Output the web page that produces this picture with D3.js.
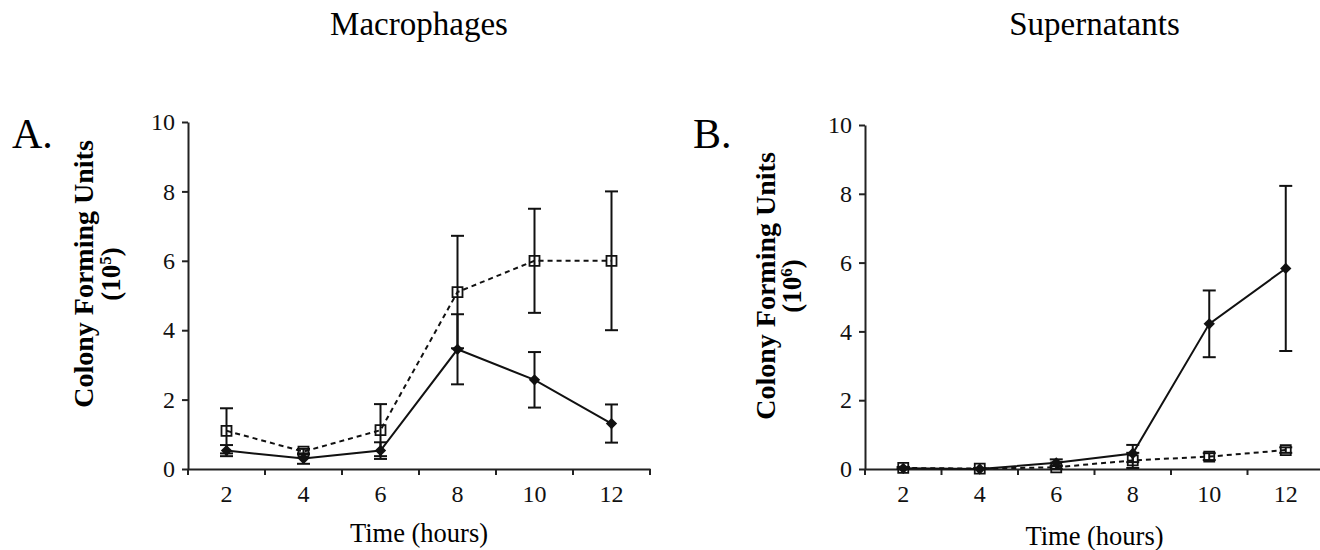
<!DOCTYPE html>
<html>
<head>
<meta charset="utf-8">
<script src="https://cdn.jsdelivr.net/npm/d3@7"></script>
<style>
  body { margin: 0; background: #fff; }
  svg { display: block; font-family: "Liberation Serif", "Times New Roman", serif; }
</style>
</head>
<body>
<div class="chart"></div>
<script>
// time points (hours)
var hours = ["2", "4", "6", "8", "10", "12"];
var yTicks = [0, 2, 4, 6, 8, 10];

// A. Macrophages (x10^5 CFU)
var macroSolid = [0.53, 0.30, 0.53, 3.45, 2.57, 1.31],
    macroSolidErr = [0.16, 0.15, 0.24, 1.01, 0.80, 0.55],
    macroOpen = [1.10, 0.50, 1.12, 5.10, 6.00, 6.00],
    macroOpenErr = [0.65, 0.08, 0.75, 1.62, 1.50, 2.00];

// B. Supernatants (x10^6 CFU)
var superSolid = [0.02, 0.00, 0.18, 0.45, 4.22, 5.83],
    superSolidErr = [0.03, 0.02, 0.10, 0.25, 0.97, 2.40],
    superOpen = [0.03, 0.01, 0.05, 0.25, 0.36, 0.55],
    superOpenErr = [0.03, 0.02, 0.05, 0.22, 0.10, 0.08];

var serif = "Liberation Serif, Times New Roman, serif";

var svg = d3.select(".chart").append("svg")
    .attr("width", 1320)
    .attr("height", 550);

var panels = [
    { letter: "A.", letterX: 12, title: "Macrophages", exp: "5",
      left: 188, right: 650, top: 122, bottom: 469,
      labelX1: 93, labelX2: 120, labelY: 274, timeY: 542,
      solid: macroSolid, solidErr: macroSolidErr, open: macroOpen, openErr: macroOpenErr },
    { letter: "B.", letterX: 693, title: "Supernatants", exp: "6",
      left: 865, right: 1324, top: 125, bottom: 469,
      labelX1: 775, labelX2: 801, labelY: 286, timeY: 545,
      solid: superSolid, solidErr: superSolidErr, open: superOpen, openErr: superOpenErr }
];

// axis styling that d3 defaults would otherwise override
function styleAxis(sel) {
    sel.selectAll("path, line").style("stroke", "#222").style("stroke-width", "2px");
    sel.selectAll("text")
        .style("font-family", serif)
        .style("font-size", "24px")
        .style("fill", "#111");
}

panels.forEach(function (p) {
    var x = d3.scaleBand().domain(hours).range([p.left, p.right]);
    var y = d3.scaleLinear().domain([0, 10]).range([p.bottom, p.top]);
    var cx = function (i) { return x(hours[i]) + x.bandwidth() / 2; };

    var g = svg.append("g");

    // title and panel letter
    g.append("text")
        .attr("x", (p.left + p.right) / 2).attr("y", 35)
        .attr("text-anchor", "middle")
        .style("font-size", "33px")
        .text(p.title);

    g.append("text")
        .attr("x", p.letterX).attr("y", 148)
        .style("font-size", "42px")
        .text(p.letter);

    // y axis
    g.append("g")
        .attr("transform", "translate(" + p.left + ",0)")
        .call(d3.axisLeft(y).tickValues(yTicks).tickSizeInner(6).tickSizeOuter(0).tickPadding(7))
        .call(styleAxis);

    // x axis: labels at band centres, ticks at band edges
    var xAxis = g.append("g")
        .attr("transform", "translate(0," + p.bottom + ")")
        .call(d3.axisBottom(x).tickSize(0).tickPadding(16));
    xAxis.selectAll(".tick line").remove();
    var edges = hours.map(function (h) { return x(h); }).concat([x.range()[1]]);
    xAxis.selectAll("line.edge")
        .data(edges)
        .enter().append("line")
        .attr("class", "edge")
        .attr("x1", function (d) { return d; })
        .attr("x2", function (d) { return d; })
        .attr("y1", 0).attr("y2", 6);
    xAxis.call(styleAxis);

    // axis titles
    g.append("text")
        .attr("x", (p.left + p.right) / 2).attr("y", p.timeY)
        .attr("text-anchor", "middle")
        .style("font-size", "26.5px")
        .text("Time (hours)");

    g.append("text")
        .attr("transform", "translate(" + p.labelX1 + "," + p.labelY + ") rotate(-90)")
        .attr("text-anchor", "middle")
        .style("font-size", "28px").style("font-weight", "bold")
        .text("Colony Forming Units");

    var sub = g.append("text")
        .attr("transform", "translate(" + p.labelX2 + "," + p.labelY + ") rotate(-90)")
        .attr("text-anchor", "middle")
        .style("font-size", "27px").style("font-weight", "bold");
    sub.append("tspan").text("(10");
    sub.append("tspan").attr("dy", -9).style("font-size", "17px").text(p.exp);
    sub.append("tspan").attr("dy", 9).text(")");

    // lines
    var line = d3.line()
        .x(function (d, i) { return cx(i); })
        .y(function (d) { return y(d); });

    g.append("path")
        .datum(p.open)
        .attr("d", line)
        .attr("fill", "none")
        .attr("stroke", "#111")
        .attr("stroke-width", 2)
        .attr("stroke-dasharray", "5,4");

    g.append("path")
        .datum(p.solid)
        .attr("d", line)
        .attr("fill", "none")
        .attr("stroke", "#111")
        .attr("stroke-width", 2);

    // error bars
    function errorBars(vals, errs) {
        vals.forEach(function (v, i) {
            var lo = y(Math.max(0, v - errs[i])), hi = y(v + errs[i]), c = cx(i);
            g.append("line").attr("x1", c).attr("x2", c).attr("y1", lo).attr("y2", hi)
                .attr("stroke", "#111").attr("stroke-width", 2);
            [lo, hi].forEach(function (yy) {
                g.append("line").attr("x1", c - 6.5).attr("x2", c + 6.5).attr("y1", yy).attr("y2", yy)
                    .attr("stroke", "#111").attr("stroke-width", 2);
            });
        });
    }
    errorBars(p.solid, p.solidErr);
    errorBars(p.open, p.openErr);

    // markers
    g.selectAll("path.sq")
        .data(p.open)
        .enter().append("path")
        .attr("class", "sq")
        .attr("d", d3.symbol(d3.symbolSquare, 100))
        .attr("transform", function (d, i) { return "translate(" + cx(i) + "," + y(d) + ")"; })
        .attr("fill", "none")
        .attr("stroke", "#111")
        .attr("stroke-width", 1.8);

    g.selectAll("path.dm")
        .data(p.solid)
        .enter().append("path")
        .attr("class", "dm")
        .attr("d", d3.symbol(d3.symbolSquare, 64))
        .attr("transform", function (d, i) { return "translate(" + cx(i) + "," + y(d) + ") rotate(45)"; })
        .attr("fill", "#111");
});
</script>
</body>
</html>
